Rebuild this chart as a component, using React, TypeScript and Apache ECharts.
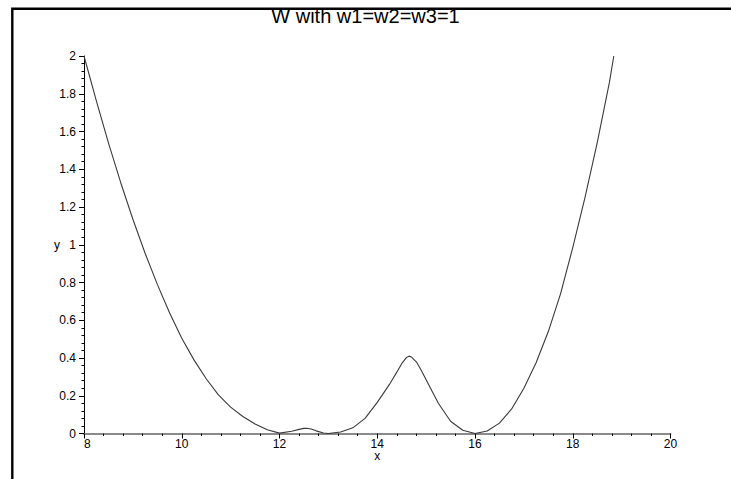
import React, { useEffect, useRef } from "react";
import * as echarts from "echarts";

const titleText = "W with w1=w2=w3=1";
const xName = "x";
const yName = "y";

const xValues = [
  8.0, 8.25, 8.5, 8.75, 9.0, 9.25, 9.5, 9.75, 10.0, 10.25, 10.5, 10.75, 11.0, 11.25, 11.5, 11.75,
  12.0, 12.25, 12.4, 12.5, 12.55, 12.65, 12.75, 12.9, 13.0, 13.25, 13.5, 13.75, 14.0, 14.25, 14.4,
  14.5, 14.6, 14.65, 14.7, 14.8, 14.9, 15.0, 15.25, 15.5, 15.75, 16.0, 16.25, 16.5, 16.75, 17.0,
  17.25, 17.5, 17.75, 18.0, 18.25, 18.5, 18.75, 18.84,
];
const yValues = [
  2.0, 1.765, 1.54, 1.33, 1.135, 0.955, 0.79, 0.64, 0.505, 0.39, 0.29, 0.205, 0.14, 0.09, 0.05, 0.02,
  0.002, 0.012, 0.022, 0.027, 0.028, 0.024, 0.014, 0.003, 0.0, 0.008, 0.03, 0.08, 0.165, 0.26, 0.325,
  0.37, 0.403, 0.41, 0.405, 0.38, 0.335, 0.285, 0.16, 0.065, 0.017, 0.0, 0.013, 0.055, 0.13, 0.24,
  0.375, 0.54, 0.74, 0.985, 1.25, 1.54, 1.86, 2.0,
];

const xMin = 8;
const xMax = 20;
const xStep = 2;
const yMin = 0;
const yMax = 2;
const yStep = 0.2;

export default function App() {
  const ref = useRef<HTMLDivElement>(null);
  useEffect(() => {
    if (!ref.current) return;
    const chart = echarts.init(ref.current, undefined, { renderer: "svg" });
    const font = "'Liberation Sans', Arial, sans-serif";
    chart.setOption({
      animation: false,
      backgroundColor: "#ffffff",
      textStyle: { fontFamily: font },
      title: {
        text: titleText,
        left: "center",
        top: 6,
        padding: 0,
        textStyle: { fontFamily: font, fontSize: 20, fontWeight: "normal", color: "#000" },
      },
      grid: { left: 84, right: 60.5, top: 56, bottom: 45.5, containLabel: false },
      xAxis: {
        type: "value",
        min: xMin,
        max: xMax,
        interval: xStep,
        name: xName,
        nameLocation: "middle",
        nameGap: 17,
        nameMoveOverlap: false,
        nameTextStyle: { fontFamily: font, fontSize: 12, lineHeight: 11, color: "#000" },
        axisLine: { show: true, onZero: false, lineStyle: { color: "#8a8a8a", width: 2 } },
        axisTick: { show: true, length: 5, lineStyle: { color: "#000", width: 1 } },
        minorTick: { show: true, splitNumber: 5, length: 2.5, lineStyle: { color: "#000", width: 1 } },
        splitLine: { show: false },
        axisLabel: {
          fontFamily: font,
          fontSize: 12,
          lineHeight: 12,
          color: "#000",
          margin: 4,
          alignMinLabel: "left",
        },
      },
      yAxis: {
        type: "value",
        min: yMin,
        max: yMax,
        interval: yStep,
        name: yName,
        nameLocation: "middle",
        nameGap: 24,
        nameRotate: 0,
        nameMoveOverlap: false,
        nameTextStyle: { fontFamily: font, fontSize: 12, color: "#000" },
        axisLine: { show: true, lineStyle: { color: "#000", width: 1 } },
        axisTick: { show: true, length: 5, lineStyle: { color: "#000", width: 1 } },
        minorTick: { show: true, splitNumber: 5, length: 2.5, lineStyle: { color: "#000", width: 1 } },
        splitLine: { show: false },
        axisLabel: {
          fontFamily: font,
          fontSize: 12,
          color: "#000",
          margin: 8,
          formatter: (v: number) => String(Math.round(v * 10) / 10),
        },
      },
      series: [
        {
          type: "line",
          data: xValues.map((x, i) => [x, yValues[i]]),
          showSymbol: false,
          smooth: false,
          lineStyle: { color: "#3a3a3a", width: 1.1 },
        },
      ],
      graphic: [
        {
          type: "polyline",
          shape: { points: [[12.3, 479], [12.3, 8.7], [731, 8.7]] },
          style: { stroke: "#000", lineWidth: 2.4, fill: "none" },
          silent: true,
        },
      ],
    });
    return () => chart.dispose();
  }, []);
  return (
    <div
      ref={ref}
      style={{ position: "fixed", left: 0, top: 0, width: 731, height: 479, background: "#fff" }}
    />
  );
}
